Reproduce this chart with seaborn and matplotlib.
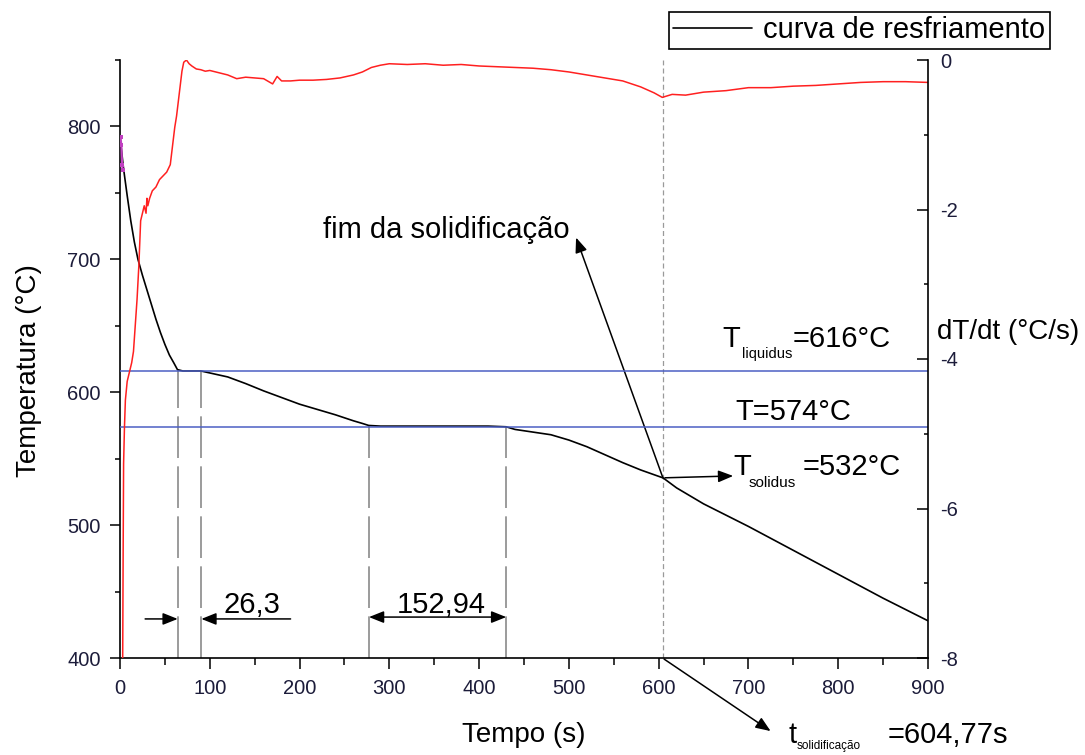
import matplotlib
matplotlib.use("Agg")
import matplotlib.pyplot as plt
from matplotlib.ticker import MultipleLocator
from matplotlib.lines import Line2D
import seaborn as sns
import pandas as pd

# ---------------- data ----------------
time_cool = [0, 4, 8, 12, 16, 20, 25, 30, 35, 40, 45, 50, 55, 60, 64, 70, 80, 90,
             100, 120, 140, 160, 180, 200, 220, 240, 260, 270, 277, 290, 320, 350,
             380, 410, 430, 440, 460, 480, 500, 520, 540, 560, 580, 605, 620, 650,
             700, 750, 800, 850, 900]
temp_cool = [792, 768, 748, 729, 713, 700, 688, 677, 666, 655, 645, 636, 628, 622,
             617, 616, 616, 616, 614.5, 611.5, 606.5, 601, 596, 591, 587, 583, 578.5,
             576.5, 575, 574.5, 574.5, 574.5, 574.5, 574.5, 574, 572, 570, 568, 564,
             559, 553, 547, 541.5, 535.5, 528, 516, 499, 481, 463, 445, 428]

time_rate = [3, 3.5, 4, 5, 6, 8, 11, 13, 15, 17, 19, 21, 22, 23, 25, 27, 29, 30, 31,
             33, 36, 40, 44, 48, 52, 56, 59, 61, 63, 65, 67, 69, 71, 74, 77, 80, 85,
             90, 95, 100, 110, 120, 130, 140, 150, 160, 170, 175, 180, 190, 200, 215,
             230, 245, 260, 270, 280, 290, 300, 320, 340, 360, 380, 400, 420, 440,
             460, 480, 500, 520, 540, 560, 580, 595, 604, 615, 630, 650, 675, 700,
             725, 750, 775, 800, 825, 850, 875, 900]
rate = [-8.0, -6.6, -5.4, -4.9, -4.55, -4.3, -4.15, -4.05, -3.9, -3.55, -3.2, -2.75,
        -2.45, -2.15, -2.05, -1.95, -2.05, -1.85, -1.95, -1.85, -1.75, -1.7, -1.6,
        -1.55, -1.5, -1.4, -1.1, -0.9, -0.75, -0.55, -0.35, -0.15, -0.03, 0.0, -0.05,
        -0.08, -0.12, -0.13, -0.15, -0.14, -0.17, -0.2, -0.25, -0.23, -0.24, -0.25,
        -0.32, -0.22, -0.28, -0.28, -0.27, -0.27, -0.26, -0.24, -0.2, -0.16, -0.1,
        -0.07, -0.05, -0.06, -0.05, -0.07, -0.06, -0.08, -0.09, -0.1, -0.11, -0.13,
        -0.16, -0.2, -0.24, -0.28, -0.36, -0.44, -0.5, -0.46, -0.47, -0.43, -0.41,
        -0.37, -0.37, -0.35, -0.34, -0.32, -0.3, -0.29, -0.29, -0.3]

mag_time = [0.6, 1.5, 2.4, 3.0]
mag_temp = [792, 786, 771, 767]

T_liquidus = 616
T_eutectic = 574
T_solidus = 532
t_solidification = 604.77
mark_t = [64.3, 90.6, 277.3, 430.2]
mark_T = [617.5, 616, 575, 574.5]
dt_primary = "26,3"
dt_eutectic = "152,94"

# ---------------- style ----------------
sns.set_theme(style="ticks")
plt.rcParams['font.family'] = ['Liberation Sans', 'DejaVu Sans']
plt.rcParams['axes.linewidth'] = 1.2
plt.rcParams['axes.unicode_minus'] = False
plt.rcParams['text.color'] = 'black'
plt.rcParams['axes.labelcolor'] = 'black'
plt.rcParams['xtick.color'] = 'black'
plt.rcParams['ytick.color'] = 'black'

fig = plt.figure(figsize=(10.85, 7.55), dpi=100)
ax = fig.add_axes([120 / 1085, 1 - 658 / 755, 808 / 1085, 598 / 755])
ax2 = ax.twinx()

cool = pd.DataFrame({'t': time_cool, 'T': temp_cool})
sns.lineplot(data=cool, x='t', y='T', ax=ax, color='black', lw=1.2,
             estimator=None, sort=False, legend=False, zorder=3)
sns.lineplot(x=mag_time, y=mag_temp, ax=ax, color='#c040c0', lw=1.5,
             marker='s', markersize=3.5, markeredgewidth=0, estimator=None,
             sort=False, legend=False, zorder=4)

rdf = pd.DataFrame({'t': time_rate, 'r': rate})
sns.lineplot(data=rdf, x='t', y='r', ax=ax2, color='#ff2020', lw=1.1,
             estimator=None, sort=False, legend=False)

# reference lines
blue = '#4b5fc4'
ax.axhline(T_liquidus, color=blue, lw=1.1, zorder=5)
ax.axhline(T_eutectic, color=blue, lw=1.1, zorder=5)
for xt, yt in zip(mark_t, mark_T):
    ax.vlines(xt, 400, yt, colors='#8a8a8a', lw=1.2, linestyles=[(0, (25, 5))], zorder=2)
ax.axvline(t_solidification, color='#9a9a9a', lw=0.9, ls=(0, (4, 2.5)), zorder=2)

# axes limits / ticks
ax.set_xlim(0, 900)
ax.set_ylim(400, 850)
ax2.set_ylim(-8, 0)
ax.set_xticks(range(0, 901, 100))
ax.xaxis.set_minor_locator(MultipleLocator(50))
ax.set_yticks([400, 500, 600, 700, 800])
ax.yaxis.set_minor_locator(MultipleLocator(50))
ax2.set_yticks([-8, -6, -4, -2, 0])
ax2.yaxis.set_minor_locator(MultipleLocator(1))

lab_col = '#1c1c3a'
ax.tick_params(axis='y', which='major', direction='out', length=7, width=1.1,
               labelsize=14.5, pad=7, labelcolor=lab_col)
ax.tick_params(axis='y', which='minor', direction='out', length=3.5, width=1.1)
ax.tick_params(axis='x', which='major', direction='out', length=8, width=1.1,
               labelsize=14.5, pad=7, labelcolor=lab_col)
ax.tick_params(axis='x', which='minor', direction='out', length=5, width=1.1)
ax2.tick_params(axis='y', which='major', direction='in', length=8, width=1.1,
                labelsize=14.5, pad=9, labelcolor=lab_col)
ax2.tick_params(axis='y', which='minor', direction='in', length=3, width=1.1)

for s in ['top', 'right']:
    ax.spines[s].set_visible(False)
for s in ['top', 'left', 'bottom']:
    ax2.spines[s].set_visible(False)
for a in (ax, ax2):
    for s in a.spines.values():
        s.set_color('black')
        s.set_linewidth(1.2)

ax.set_xlabel('Tempo (s)', fontsize=20)
ax.xaxis.set_label_coords(0.5, -0.129)
ax.xaxis.label.set_va('center')
ax.set_ylabel('Temperatura (°C)', fontsize=20)
ax.yaxis.set_label_coords(-0.113, 0.48)
ax.yaxis.label.set_va('center')
ax2.set_ylabel('dT/dt (°C/s)', fontsize=20, rotation=0, ha='left', va='center')
ax2.yaxis.set_label_coords(1.011, 0.545)

# ---------------- annotations ----------------
arr = dict(arrowstyle='-|>,head_length=0.5,head_width=0.2', color='black', lw=1.1,
           mutation_scale=18, shrinkA=0, shrinkB=0)
arr2 = dict(arrowstyle='<|-|>,head_length=0.5,head_width=0.2', color='black', lw=1.1,
            mutation_scale=18, shrinkA=0, shrinkB=0)

# 26,3 dimension
ax.annotate('', xy=(mark_t[0], 429.4), xytext=(28, 429.4), arrowprops=arr,
            annotation_clip=False)
ax.annotate('', xy=(mark_t[1], 429.4), xytext=(190, 429.4), arrowprops=arr,
            annotation_clip=False)
ax.text(115, 433.7, dt_primary, fontsize=21, ha='left', va='baseline')
# 152,94 dimension
ax.annotate('', xy=(mark_t[3], 430.8), xytext=(mark_t[2], 430.8), arrowprops=arr2,
            annotation_clip=False)
ax.text(308, 433.7, dt_eutectic, fontsize=21, ha='left', va='baseline')

# fim da solidificação
ax.annotate('', xy=(508, 716.4), xytext=(t_solidification, 535.5), arrowprops=arr,
            annotation_clip=False)
ax.text(226, 716.4, 'fim da solidificação', fontsize=21, ha='left', va='baseline')

# T liquidus
ax.text(671.5, 634.3, 'T', fontsize=21, ha='left', va='baseline')
ax.annotate('liquidus', xy=(671.5, 634.3), xytext=(13.7, -7.9), textcoords='offset points',
            fontsize=10.5, ha='left', va='baseline', annotation_clip=False)
ax.annotate(f'={T_liquidus}°C', xy=(671.5, 634.3), xytext=(50.4, 0), textcoords='offset points',
            fontsize=21, ha='left', va='baseline', annotation_clip=False)

# T eutectic
ax.text(684.9, 579.3, f'T={T_eutectic}°C', fontsize=21, ha='left', va='baseline')

# T solidus
ax.annotate('', xy=(683, 537), xytext=(607, 535.6), arrowprops=arr, annotation_clip=False)
ax.text(682.9, 537.9, 'T', fontsize=21, ha='left', va='baseline')
ax.annotate('solidus', xy=(682.9, 537.9), xytext=(10.8, -8.6), textcoords='offset points',
            fontsize=11, ha='left', va='baseline', annotation_clip=False)
ax.annotate(f'={T_solidus}°C', xy=(682.9, 537.9), xytext=(50.4, 0), textcoords='offset points',
            fontsize=21, ha='left', va='baseline', annotation_clip=False)

# t solidificação
ax.annotate('', xy=(724.7, 345), xytext=(606, 399.2), arrowprops=arr, annotation_clip=False)
ax.text(745, 336.0, 't', fontsize=21, ha='left', va='baseline')
ax.annotate('solidificação', xy=(745, 336.0), xytext=(5.8, -4.6), textcoords='offset points',
            fontsize=8.5, ha='left', va='baseline', annotation_clip=False)
ax.annotate(f'={t_solidification:.2f}s'.replace('.', ','), xy=(745, 336.0), xytext=(71.3, 0),
            textcoords='offset points', fontsize=21, ha='left', va='baseline',
            annotation_clip=False)

# legend
handle = Line2D([0], [0], color='black', lw=1.2)
leg = fig.legend([handle], ['curva de resfriamento'], loc='upper right',
                 bbox_to_anchor=(1050 / 1085, 1 - 12 / 755), frameon=True, fancybox=False,
                 edgecolor='black', fontsize=21, handlelength=2.7, handletextpad=0.4,
                 borderpad=0.15, borderaxespad=0)
leg.get_frame().set_linewidth(1.2)
leg.get_frame().set_facecolor('white')
leg.get_frame().set_alpha(1)

fig.savefig('out.png', dpi=100)
